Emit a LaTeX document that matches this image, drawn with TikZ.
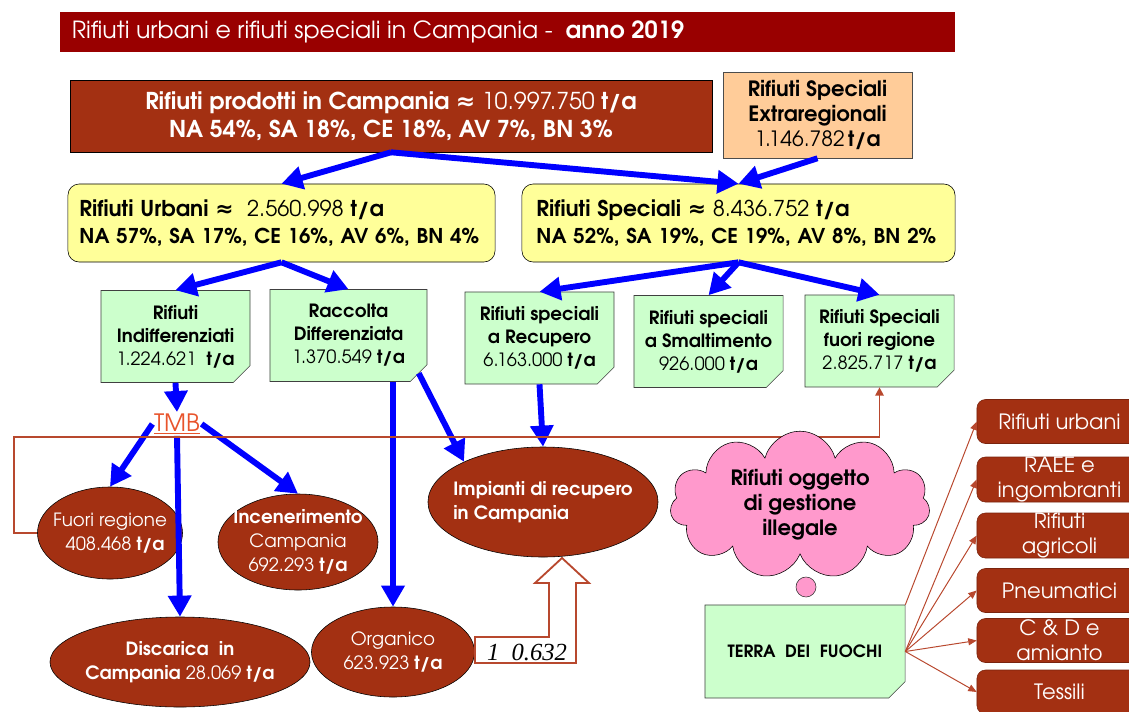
\documentclass[tikz,border=0pt]{standalone}
\usepackage{fontspec}
\setmainfont{texgyreadventor}[Extension=.otf,UprightFont=*-regular,BoldFont=*-bold,ItalicFont=*-italic,BoldItalicFont=*-bolditalic]
\newfontfamily\ratiofont{Liberation Serif}
\newfontfamily\symbfont{DejaVu Sans}
\newcommand{\approxsym}{{\symbfont\bfseries ≈}}
\usetikzlibrary{arrows.meta,shapes.geometric,shapes.misc,shapes.symbols}

\definecolor{titlered}{RGB}{153,0,0}
\definecolor{rust}{RGB}{163,48,18}
\definecolor{peach}{RGB}{255,204,153}
\definecolor{paleyellow}{RGB}{255,255,153}
\definecolor{notegreen}{RGB}{204,255,204}
\definecolor{foldgreen}{RGB}{150,190,150}
\definecolor{cloudpink}{RGB}{255,153,204}
\definecolor{flowblue}{RGB}{0,0,255}
\definecolor{linkred}{RGB}{232,84,44}
\definecolor{loopbrown}{RGB}{184,72,46}

\tikzset{
  flow/.style={draw=flowblue, line width=4.2pt, -{Triangle[length=15pt,width=16pt]}},
  thinflow/.style={draw=loopbrown, line width=0.7pt, -{Triangle[length=6pt,width=5pt]}},
  sumbox/.style={draw=black, fill=paleyellow, rounded corners=8pt, minimum height=1.95cm,
    text width=10.1cm, align=left, inner sep=2pt, font=\fontsize{14.5}{19.8}\selectfont},
  notebox/.style={chamfered rectangle, chamfered rectangle corners=south east,
    chamfered rectangle xsep=6pt, chamfered rectangle ysep=6pt,
    draw=black!75, fill=notegreen, minimum width=3.725cm, minimum height=2.3cm,
    align=center, inner sep=1pt, font=\fontsize{13}{16.3}\selectfont,
    path picture={
      \filldraw[fill=foldgreen, draw=black!75, line width=0.4pt]
        ([xshift=-6pt]path picture bounding box.south east)
        -- ([xshift=-5pt,yshift=4.5pt]path picture bounding box.south east)
        -- ([yshift=6pt]path picture bounding box.south east) -- cycle;}},
  wasteell/.style={ellipse, draw=black, fill=rust, text=white, align=center,
    inner sep=-8pt, font=\fontsize{13}{17}\selectfont},
  listbox/.style={draw=rust!75!black, fill=rust, text=white, rounded corners=6pt,
    minimum width=4.125cm, minimum height=1.1cm, align=center, inner sep=0pt,
    font=\fontsize{15}{17.7}\selectfont}
}

\begin{document}
\begin{tikzpicture}[x=0.025cm,y=-0.025cm]
  \useasboundingbox (0,0) rectangle (1129,711);

  % title bar
  \node[fill=titlered, minimum width=22.375cm, minimum height=1cm, inner sep=0pt] (titlebar) at (507.5,32) {};
  \node[anchor=west, text=white, inner sep=0pt, font=\fontsize{16.8}{18}\selectfont] (titletext)
    at ([xshift=0.3cm]titlebar.west) {Rifiuti urbani e rifiuti speciali in Campania -\ \ \textbf{anno 2019}};

  % top boxes
  \node[draw=black, fill=rust, text=white, minimum width=16.05cm, minimum height=1.8cm, align=center,
        font=\fontsize{16.5}{19.8}\selectfont] (prod) at (391,116)
    {\textbf{Rifiuti prodotti in Campania \approxsym} 10.997.750 \textbf{t/a}\\
     \textbf{NA 54\%, SA 18\%, CE 18\%, AV 7\%, BN 3\%}};
  \node[draw=black!70, fill=peach, minimum width=4.725cm, minimum height=2.15cm, align=center,
        font=\fontsize{15}{17.7}\selectfont] (extra) at (817.5,115)
    {\textbf{Rifiuti Speciali}\\\textbf{Extraregionali}\\1.146.782\,\textbf{t/a}};

  \node[sumbox, minimum width=10.675cm] (urbani) at (281.5,223)
    {{\fontsize{15.5}{19.8}\selectfont\textbf{Rifiuti Urbani \approxsym}\ \ 2.560.998 \textbf{t/a}}\\
     \textbf{NA 57\%, SA 17\%, CE 16\%, AV 6\%, BN 4\%}};
  \node[sumbox, minimum width=10.825cm] (speciali) at (738.5,223)
    {{\fontsize{15.5}{19.8}\selectfont\textbf{Rifiuti Speciali \approxsym} 8.436.752 \textbf{t/a}}\\
     \textbf{NA 52\%, SA 19\%, CE 19\%, AV 8\%, BN 2\%}};

  % notes
  \node[notebox] (indiff) at (175.5,336.5) {\textbf{Rifiuti}\\\textbf{Indifferenziati}\\1.224.621\ \ \textbf{t/a}};
  \node[notebox, minimum width=3.925cm] (raccolta) at (348.5,335.5) {\textbf{Raccolta}\\\textbf{Differenziata}\\1.370.549 \textbf{t/a}};
  \node[notebox] (recupero) at (539.5,338) {\textbf{Rifiuti speciali}\\\textbf{a Recupero}\\6.163.000 \textbf{t/a}};
  \node[notebox] (smalt) at (708.5,341.5) {\textbf{Rifiuti speciali}\\\textbf{a Smaltimento}\\926.000 \textbf{t/a}};
  \node[notebox] (fuori) at (879.5,341) {\textbf{Rifiuti Speciali}\\\textbf{fuori regione}\\2.825.717 \textbf{t/a}};

  \node[text=linkred, inner sep=1pt, font=\fontsize{17}{19}\selectfont] (tmb) at (177,424) {\underline{TMB}};

  % ellipses
  \node[wasteell, minimum width=3.625cm, minimum height=2.3cm] (fuorireg) at (110,533) {Fuori regione\\\ \ 408.468 \textbf{t/a}};
  \node[wasteell, minimum width=4cm, minimum height=2.4cm] (incen) at (298,542) {\textbf{Incenerimento}\\Campania\\692.293 \textbf{t/a}};
  \node[wasteell, minimum width=6.5cm, minimum height=2.25cm] (discarica) at (180,662) {\textbf{Discarica\ \ in}\\\textbf{Campania} 28.069 \textbf{t/a}};
  \node[wasteell, minimum width=4.075cm, minimum height=2.25cm] (organico) at (393,652) {Organico\\623.923 \textbf{t/a}};
  \node[wasteell, align=left, minimum width=5.75cm, minimum height=2.75cm] (impianti) at (543,502) {\textbf{Impianti di recupero}\\\textbf{in Campania}};

  % blue flows
  \draw[flow] (prod.south) -- (urbani.north);
  \draw[flow] (prod.south) -- (speciali.north);
  \draw[flow] (extra.south) -- (speciali.north);
  \draw[flow] (urbani.south) -- (indiff.north);
  \draw[flow] (urbani.south) -- (raccolta.north);
  \draw[flow] (speciali.south) -- (recupero.north);
  \draw[flow] (speciali.south) -- (smalt.north);
  \draw[flow] (speciali.south) -- (fuori.north);
  \draw[flow] (indiff.south) -- (tmb.north);
  \draw[flow] (tmb.west) -- (fuorireg.north);
  \draw[flow] (tmb.east) -- (incen.north);
  \draw[flow] (tmb.south) -- (discarica.north);
  \draw[flow] (raccolta.south -| organico.north) -- (organico.north);
  \draw[flow] (raccolta.south east) -- (impianti.153);
  \draw[flow] (recupero.south) -- (impianti.north);

  % loop back to fuori regione
  \coordinate (loopcorner) at (14,437);
  \draw[loopbrown, line width=1.4pt, -{Triangle[length=6pt,width=6pt]}]
    (fuorireg.west) -| (loopcorner) -| (fuori.south);

  % hollow bent arrow
  \draw[loopbrown, line width=1.3pt, fill=white]
    (475,637) -- (549,637) -- (549,583) -- (535,583) -- (562,558) -- (589,583)
    -- (576,583) -- (576,663) -- (475,663) -- cycle;
  \node[font=\ratiofont\itshape\fontsize{17.5}{19}\selectfont, inner sep=0pt] (ratio) at (527,652) {1\ \ 0.632};

  % illegal waste
  \node[cloud, cloud puffs=11, aspect=2.4, draw=black, fill=cloudpink, minimum width=6.5cm, minimum height=2.8cm,
        align=center, inner sep=0pt, font=\fontsize{15}{17.7}\selectfont] (cloud) at (800,505)
    {\textbf{Rifiuti oggetto}\\\textbf{di gestione}\\\textbf{illegale}};
  \node[circle, draw=black!80, fill=cloudpink, minimum size=0.5cm, inner sep=0pt] (bubble) at (806,587) {};
  \node[notebox, minimum width=5cm, minimum height=2.325cm, font=\fontsize{12}{14}\selectfont] (terra) at (805,651.5)
    {\textbf{TERRA\ \ DEI\ \ FUOCHI}};

  \foreach \nm/\yc/\txt in {urb/421.5/Rifiuti urbani, raee/479.5/{RAEE e\\ingombranti},
      agri/535.5/{Rifiuti\\agricoli}, pneu/590.5/Pneumatici, cd/640.5/{C \& D e\\amianto}, tess/692/Tessili}
    \node[listbox] (l\nm) at (1059.5,\yc) {\txt};

  \draw[thinflow] (terra.north east) -- (lurb.west);
  \foreach \nm in {raee,agri,pneu,cd,tess}
    \draw[thinflow] (terra.east) -- (l\nm.west);
\end{tikzpicture}
\end{document}
